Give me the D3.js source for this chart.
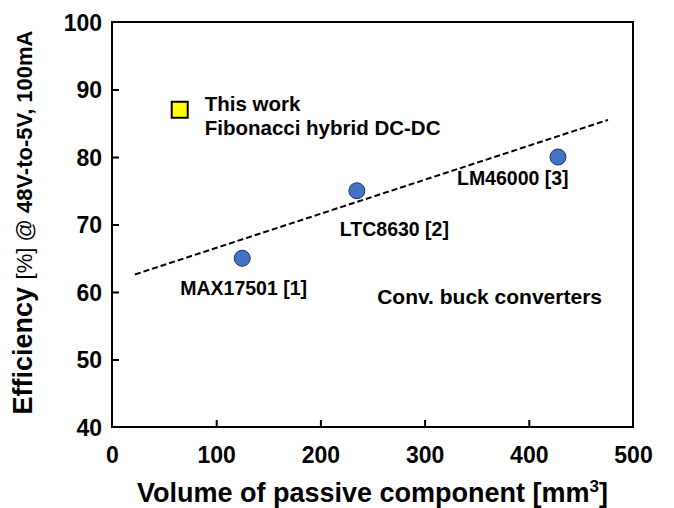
<!DOCTYPE html>
<html>
<head>
<meta charset="utf-8">
<script src="https://cdn.jsdelivr.net/npm/d3@7"></script>
<style>
  body { margin: 0; background: #fff; }
  svg text { font-family: "Liberation Sans", Arial, sans-serif; font-weight: bold; fill: #000; }
</style>
</head>
<body>
<div id="chart"></div>
<script>
const xTicks = [0, 100, 200, 300, 400, 500];
const yTicks = [40, 50, 60, 70, 80, 90, 100];

const convNames = ["MAX17501 [1]", "LTC8630 [2]", "LM46000 [3]"];
const convVolume = [125, 235, 428];
const convEff = [65, 75, 80];

const thisWorkVolume = [65];
const thisWorkEff = [87];

const trendVolume = [22, 476];
const trendEff = [62.6, 85.5];

const width = 674, height = 508;
const margin = {top: 22, right: 41, bottom: 81, left: 112};
const innerWidth = width - margin.left - margin.right;
const innerHeight = height - margin.top - margin.bottom;

const svg = d3.select("#chart")
    .append("svg")
    .attr("width", width)
    .attr("height", height);

const g = svg.append("g")
    .attr("transform", `translate(${margin.left},${margin.top})`);

const x = d3.scaleLinear().domain([0, 500]).range([0, innerWidth]);
const y = d3.scaleLinear().domain([40, 100]).range([innerHeight, 0]);

// frame
g.append("rect")
    .attr("width", innerWidth)
    .attr("height", innerHeight)
    .attr("fill", "none")
    .attr("stroke", "#000")
    .attr("stroke-width", 2);

const xAxis = g.append("g")
    .attr("transform", `translate(0,${innerHeight})`)
    .call(d3.axisBottom(x).tickValues(xTicks).tickSize(-7).tickPadding(20));
const yAxis = g.append("g")
    .call(d3.axisLeft(y).tickValues(yTicks).tickSize(-7).tickPadding(10));

[xAxis, yAxis].forEach(a => {
    a.select(".domain").remove();
    a.selectAll("line").attr("stroke", "#000").attr("stroke-width", 2);
    a.selectAll("text")
        .style("font-size", "23px")
        .style("font-family", "'Liberation Sans', Arial, sans-serif")
        .style("font-weight", "bold");
});
xAxis.selectAll(".tick").filter(d => d === 0 || d === 500).select("line").remove();
yAxis.selectAll(".tick").filter(d => d === 40 || d === 100).select("line").remove();
yAxis.selectAll("text").attr("dy", "0.36em");

// axis titles
const xt = svg.append("text")
    .attr("x", margin.left + innerWidth / 2)
    .attr("y", 502)
    .attr("text-anchor", "middle")
    .style("font-size", "27px");
xt.append("tspan").text("Volume of passive component [mm");
xt.append("tspan").attr("dy", -10).style("font-size", "17px").text("3");
xt.append("tspan").attr("dy", 10).text("]");

const yt = svg.append("text")
    .attr("transform", `translate(32,${margin.top + innerHeight / 2 - 2}) rotate(-90)`)
    .attr("text-anchor", "middle");
yt.append("tspan").style("font-size", "27px").text("Efficiency ");
yt.append("tspan").style("font-size", "22px").style("font-weight", "normal").text("[%] @ ");
yt.append("tspan").style("font-size", "22px").text("48V-to-5V, 100mA");

// trend line
g.append("line")
    .attr("x1", x(trendVolume[0])).attr("y1", y(trendEff[0]))
    .attr("x2", x(trendVolume[1])).attr("y2", y(trendEff[1]))
    .attr("stroke", "#000")
    .attr("stroke-width", 2)
    .attr("stroke-dasharray", "6,3");

// conventional converters
const conv = convNames.map((n, i) => ({name: n, v: convVolume[i], e: convEff[i]}));
g.selectAll(".conv")
    .data(conv)
    .enter()
    .append("circle")
    .attr("class", "conv")
    .attr("cx", d => x(d.v))
    .attr("cy", d => y(d.e))
    .attr("r", 8)
    .attr("fill", "#4472C4")
    .attr("stroke", "#1F3864")
    .attr("stroke-width", 1);

const labelOffset = [[-62, 37], [-17, 45], [-101, 28]];
g.selectAll(".conv-label")
    .data(conv)
    .enter()
    .append("text")
    .attr("class", "conv-label")
    .attr("x", (d, i) => x(d.v) + labelOffset[i][0])
    .attr("y", (d, i) => y(d.e) + labelOffset[i][1])
    .style("font-size", "19.5px")
    .text(d => d.name);

// this work
g.selectAll(".tw")
    .data(thisWorkVolume.map((v, i) => ({v, e: thisWorkEff[i]})))
    .enter()
    .append("rect")
    .attr("class", "tw")
    .attr("x", d => x(d.v) - 8)
    .attr("y", d => y(d.e) - 8)
    .attr("width", 16)
    .attr("height", 16)
    .attr("fill", "#FFFF00")
    .attr("stroke", "#000")
    .attr("stroke-width", 2);

const tw = g.append("text")
    .attr("x", x(thisWorkVolume[0]) + 25)
    .attr("y", y(thisWorkEff[0]) + 1)
    .style("font-size", "20.5px");
tw.append("tspan").text("This work");
tw.append("tspan").attr("x", x(thisWorkVolume[0]) + 25).attr("dy", 24).text("Fibonacci hybrid DC-DC");

g.append("text")
    .attr("x", x(500) - 31)
    .attr("y", y(60) + 12)
    .attr("text-anchor", "end")
    .style("font-size", "21px")
    .text("Conv. buck converters");
</script>
</body>
</html>
